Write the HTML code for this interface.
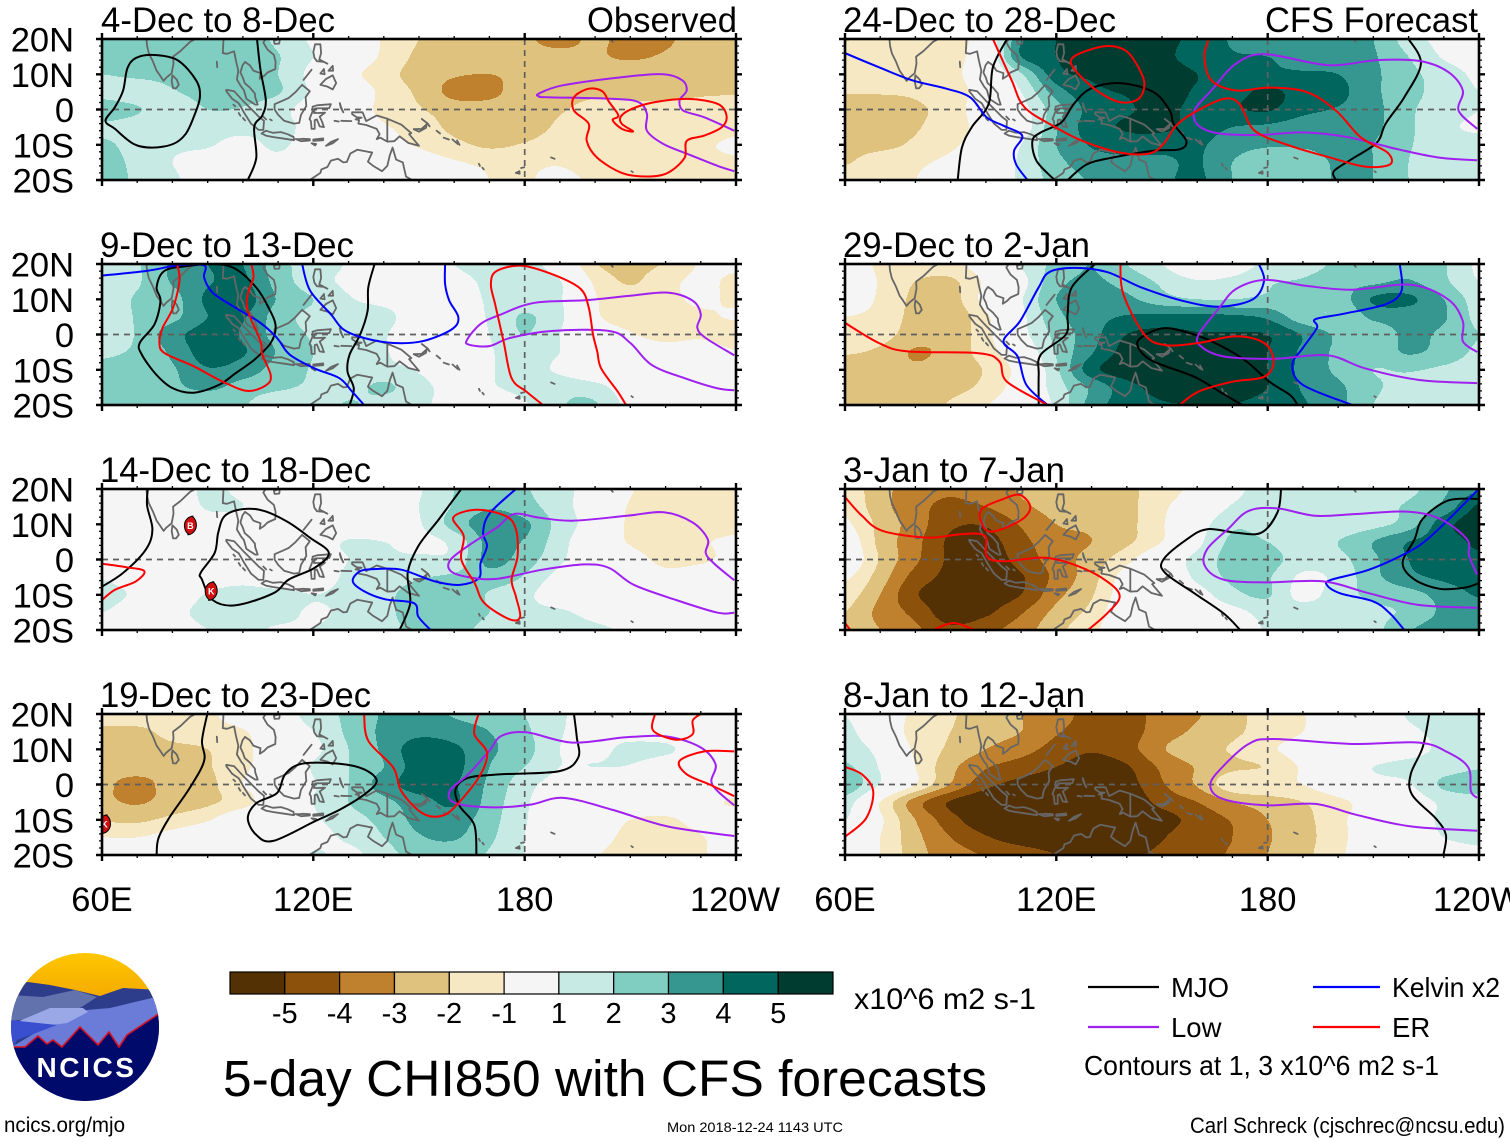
<!DOCTYPE html>
<html lang="en">
<head>
<meta charset="utf-8">
<title>5-day CHI850 with CFS forecasts</title>
<style>
html,body{margin:0;padding:0;background:#fff;width:1510px;height:1142px;overflow:hidden}
svg{display:block;position:absolute;left:0;top:0}
text{font-family:"Liberation Sans",Arial,sans-serif;fill:#000}
</style>
</head>
<body>
<svg id="root" xmlns="http://www.w3.org/2000/svg" width="1510" height="1142" viewBox="0 0 1510 1142">
<rect x="0" y="0" width="1510" height="1142" fill="#fff"/>
<g id="panel-0"></g>
<g id="panel-1"></g>
<g id="panel-2"></g>
<g id="panel-3"></g>
<g id="panel-4"></g>
<g id="panel-5"></g>
<g id="panel-6"></g>
<g id="panel-7"></g>

<g font-size="35">
<text x="101" y="32" textLength="234" lengthAdjust="spacingAndGlyphs">4-Dec to 8-Dec</text>
<text x="587" y="32" textLength="150" lengthAdjust="spacingAndGlyphs">Observed</text>
<text x="100" y="257" textLength="254" lengthAdjust="spacingAndGlyphs">9-Dec to 13-Dec</text>
<text x="100" y="482" textLength="271" lengthAdjust="spacingAndGlyphs">14-Dec to 18-Dec</text>
<text x="100" y="707" textLength="271" lengthAdjust="spacingAndGlyphs">19-Dec to 23-Dec</text>
<text x="843" y="32" textLength="273" lengthAdjust="spacingAndGlyphs">24-Dec to 28-Dec</text>
<text x="1265" y="32" textLength="213" lengthAdjust="spacingAndGlyphs">CFS Forecast</text>
<text x="843" y="257" textLength="247" lengthAdjust="spacingAndGlyphs">29-Dec to 2-Jan</text>
<text x="843" y="482" textLength="222" lengthAdjust="spacingAndGlyphs">3-Jan to 7-Jan</text>
<text x="843" y="707" textLength="242" lengthAdjust="spacingAndGlyphs">8-Jan to 12-Jan</text>
</g>

<g id="colorbar"></g>
<text x="854" y="1009" font-size="30" textLength="182" lengthAdjust="spacingAndGlyphs">x10^6 m2 s-1</text>
<text x="223" y="1096" font-size="51" textLength="764" lengthAdjust="spacingAndGlyphs">5-day CHI850 with CFS forecasts</text>

<g>
<line x1="1088" y1="987" x2="1159" y2="987" stroke="#000" stroke-width="2.2"/>
<text x="1171" y="997" font-size="27.5">MJO</text>
<line x1="1313" y1="987" x2="1380" y2="987" stroke="#0000ff" stroke-width="2.2"/>
<text x="1392" y="997" font-size="27.5" textLength="108" lengthAdjust="spacingAndGlyphs">Kelvin x2</text>
<line x1="1088" y1="1027" x2="1159" y2="1027" stroke="#a020f0" stroke-width="2.2"/>
<text x="1171" y="1037" font-size="27.5">Low</text>
<line x1="1313" y1="1027" x2="1380" y2="1027" stroke="#ff0000" stroke-width="2.2"/>
<text x="1392" y="1037" font-size="27.5">ER</text>
<text x="1084" y="1075" font-size="28" textLength="355" lengthAdjust="spacingAndGlyphs">Contours at 1, 3 x10^6 m2 s-1</text>
</g>

<text x="4" y="1132" font-size="21.5" textLength="121" lengthAdjust="spacingAndGlyphs">ncics.org/mjo</text>
<text x="667" y="1132" font-size="14" textLength="176" lengthAdjust="spacingAndGlyphs">Mon 2018-12-24 1143 UTC</text>
<text x="1190" y="1133" font-size="22" textLength="315" lengthAdjust="spacingAndGlyphs">Carl Schreck (cjschrec@ncsu.edu)</text>

<g>
<defs>
<clipPath id="logo-clip"><circle cx="85" cy="1027" r="74"/></clipPath>
<linearGradient id="sky" x1="0" y1="0" x2="0" y2="1"><stop offset="0" stop-color="#ffc800"/><stop offset="1" stop-color="#f4a800"/></linearGradient>
</defs>
<g clip-path="url(#logo-clip)">
<rect x="10" y="952" width="150" height="48" fill="url(#sky)"/>
<polygon points="10,985 28,982 50,985 75,990 100,996 123,988 160,990 160,1102 10,1102" fill="#2e3c8c"/>
<polygon points="10,995 43,997 75,990 97,997 80,1008 47,1017 10,1021" fill="#6272ac"/>
<polygon points="160,996 110,1008 87,1010 40,1030 10,1048 160,1048" fill="#6a7cd8"/>
<polygon points="17,1022 50,1008 83,1008 88,1012 67,1023 43,1026" fill="#9aa8e8"/>
<polygon points="10,1020 57,1025 17,1040 13,1048 10,1048" fill="#3a4fd0"/>
<polygon points="10,1047 25,1047 38,1036 47,1044 53,1040 62,1047 80,1027 98,1045 109,1032 119,1047 127,1035 160,1013 160,1102 10,1102" fill="#000a6b" stroke="#d81020" stroke-width="1.6"/>
</g>
<text x="86.5" y="1077" font-size="28" font-weight="700" text-anchor="middle" letter-spacing="2.6" style="fill:#fff">NCICS</text>
</g>
</svg>

<script>
// Grid axes of the anomaly fields
const gridLons = [60,70,80,90,100,110,120,130,140,150,160,170,180,190,200,210,220,230,240];
const gridLats = [20,15,10,5,0,-5,-10,-15,-20];

// Shading classes
const shadeLevels = [-5,-4,-3,-2,-1,1,2,3,4,5];
const shadeColors = ['#543005','#8c510a','#bf812d','#dfc27d','#f6e8c3','#f5f5f5','#c7eae5','#80cdc1','#35978f','#01665e','#003c30'];

// Axis labels
const latTickLabels = ['20N','10N','0','10S','20S'];
const latTickValues = [20,10,0,-10,-20];
const lonTickLabels = ['60E','120E','180','120W'];
const lonTickValues = [60,120,180,240];
const colorbarLabels = ['-5','-4','-3','-2','-1','1','2','3','4','5'];

// CHI850 anomaly (x10^6 m2 s-1), rows = gridLats, columns = gridLons
const fieldDec04 = [
[2.5,2.5,2.5,2.3,2.4,1.8,0.8,0,-1.1,-2.0,-2.3,-2.7,-2.9,-3.2,-2.9,-3.2,-3.1,-2.7,-2.6],
[2.5,2.5,2.5,2.5,2.5,2.05,1.0,0,-1.2,-2.2,-2.4,-2.6,-2.8,-2.8,-2.9,-3.1,-2.9,-2.6,-2.5],
[2.0,2.2,2.3,2.4,2.5,2.0,0.6,-0.6,-1.6,-2.4,-2.9,-3.0,-2.8,-2.6,-2.6,-2.5,-2.4,-2.3,-2.3],
[1.6,1.4,1.9,2.4,2.5,2.1,0.8,0,-1.3,-2.2,-3.3,-3.2,-2.6,-2.4,-2.2,-2.2,-2.2,-2.1,-2.05],
[2.6,2.1,1.3,2.0,1.9,1.3,0.5,-0.2,-1.3,-1.9,-2.5,-2.7,-2.5,-2.1,-1.7,-1.8,-1.8,-1.7,-1.7],
[1.8,1.5,1.4,1.4,1.4,1.3,0.6,-0.3,-0.9,-1.4,-2.3,-2.8,-2.6,-1.8,-1.5,-1.6,-1.5,-1.4,-1.2],
[2.2,1.6,1.2,1.1,0.6,1.2,0.3,-0.3,-0.7,-1.1,-1.7,-2.2,-1.9,-1.4,-1.5,-1.4,-1.3,-1.1,-0.9],
[2.5,1.7,1,0.5,0.3,0.6,0,0,-0.3,-0.5,-0.9,-1.2,-1.2,-1.1,-1.5,-1.4,-1.3,-1.2,-1.1],
[2.6,1.8,1.2,0.3,0.2,0,0,0,0,-0.2,-0.5,-1,-1.1,-0.7,-1.2,-1.3,-1.3,-1.3,-1.3]];
const fieldDec09 = [
[1.6,1.9,3.2,4.0,4.0,2.4,1.5,0.9,0.1,0,1.0,1.4,1.4,0.3,-1.9,-2.3,-1.9,-0.9,-0.8],
[1.7,1.9,3.1,3.9,4.2,2.6,1.4,0.8,0.2,0,0.6,1.2,1.4,1.05,-1.2,-2.1,-1.3,-0.8,-1.2],
[1.5,2.1,2.6,4.2,4.5,2.9,2.0,1.1,0.7,0.4,0.6,1.1,1.5,1.1,-0.9,-1.5,-1.3,-0.8,-1.2],
[1.3,2.1,2.7,4.0,4.1,2.5,1.7,1.5,1.3,0.4,0.4,1.1,2.1,1.2,-0.8,-1.4,-1.5,-1.2,-0.9],
[1.4,2.1,3.6,4.4,3.9,2.6,1.9,1.7,1.1,0.2,0.2,1.0,2.0,1.0,-0.3,-0.9,-1.4,-1.2,-1.6],
[1.8,2.2,3.2,4.5,4.1,2.9,2.0,1.6,1.1,0.3,0.1,0.9,1.5,1.0,0,-0.2,-0.4,-0.3,-0.9],
[2.3,2.6,2.9,3.9,3.5,2.6,1.9,1.3,1.3,0.9,0.3,0.9,1.4,0.8,0,0,0,0,0],
[2.5,2.6,2.8,3.2,2.6,2.2,1.8,1.6,2.2,1.3,0.7,0.9,1.3,1.7,1.4,0.3,0,0,0],
[2.4,2.4,2.3,2.2,2.1,1.1,1.3,2.1,1.5,1.2,0.6,0.4,0.9,1.9,2.1,0.6,0,0,0]];
const fieldDec14 = [
[0,0,0.3,1.2,0.7,0,0,0,0.3,0.9,2.0,2.6,2.1,1.3,0.5,-0.9,-1.3,-1.2,-1.2],
[0,0,0.2,1.1,1.0,0.3,0,0,0,1.0,2.1,2.9,2.4,1.4,0.3,-1.1,-1.3,-1.3,-1.4],
[0,0,0,0.5,0.4,0,0,0,0.2,0.9,2.4,3.6,3.2,1.6,0.4,-1.2,-1.5,-1.4,-1.3],
[0,0,0,0,0,0,0.3,1.1,1.0,0.7,1.3,3.3,2.9,1.4,0,-1.1,-1.4,-1.1,-0.8],
[0.2,0,0,0,0,0,0.2,1.0,1.1,1.2,1.3,3.3,2.5,1.2,0,-0.5,-1.3,-1.2,-0.6],
[0.9,0.4,0,0.3,0.5,0,0.3,1.2,1.4,1.9,2.2,2.6,1.9,0.6,0,0,-0.6,-0.2,0],
[1.4,0.8,0.2,1.1,1.5,1.4,1.0,1.3,1.7,2.6,2.8,1.9,1.3,0.2,0,0,0,0,0],
[1.0,0.3,0.6,1.4,1.5,1.3,0.9,1.2,1.7,2.6,2.7,2.0,1.3,1.2,0.5,0,0,0,0],
[0,0,0.3,1.0,1.2,0.9,1.0,1.3,1.6,2.3,2.4,1.6,1.2,1.6,1.3,0.7,0,0,0]];
const fieldDec19 = [
[-1.2,-1.2,-1.3,-1.2,-0.3,0.3,1.5,2.2,3.1,3.4,2.9,2.5,2.0,1.2,0.2,0,0,0,0],
[-2.3,-2.3,-1.6,-1.4,-1.1,0,1.0,2.2,3.2,3.7,3.5,3.0,2.2,1.1,0.5,0.3,0,0,0],
[-2.6,-2.6,-2.3,-2.0,-1.3,-0.2,0.7,2.0,3.2,4.6,4.2,3.2,2.4,1.0,0.6,1.4,1.3,0,0],
[-2.7,-2.6,-2.7,-2.1,-1.2,-0.3,1.1,2.0,3.0,4.5,4.3,3.0,2.0,1.0,1.0,0.9,0,0,0],
[-2.8,-3.3,-2.6,-2.3,-1.0,-0.3,0.9,2.0,3.5,4.5,4.1,2.8,1.4,0.5,0,0,0,0,0],
[-2.8,-3.1,-2.6,-2.2,-1.4,0,1,2,2.7,3.6,4.1,2.6,1.2,0,0,0,0,-0.5,-1.2],
[-2.1,-2.2,-1.7,-1.1,0,0,0.8,1.6,2.3,3.3,3.5,2.4,1.1,0,0,-1,-1.2,-0.5,0],
[-1,-1,-0.5,0,0,0,0.6,1.2,2.0,2.9,3.1,2.2,1.0,0,-0.4,-1.4,-1.5,-1.1,0],
[0,0,0,0,0,0,1.1,0.7,1.6,2.4,2.5,1.9,1.0,0,-0.9,-1.5,-1.6,-1.2,0]];
const fieldDec24 = [
[-2.1,-1.3,-1.3,-1.2,-0.3,4.0,5.0,5.5,5.6,5.4,4.6,3.9,3.4,3.3,3.2,3.0,1.5,0.7,0.5],
[-1.3,-1.3,-1.3,-1.2,-0.2,4.0,5.0,5.5,5.7,5.3,4.5,4.1,4.0,3.6,3.4,3.1,2.0,0.9,0.5],
[-1.4,-1.4,-1.4,-1.2,-0.3,1.9,4.6,5.2,5.7,5.6,5.0,4.5,4.2,4.1,4.0,3.2,2.3,1.5,0.8],
[-1.9,-1.9,-1.8,-1.3,-0.6,1.0,3.5,4.7,5.1,5.4,4.9,4.7,5.2,4.6,4.3,3.2,2.4,1.5,1.0],
[-2.6,-2.6,-2.2,-1.5,-0.3,0.6,2.6,4.4,4.9,5.2,4.8,4.9,5.1,4.3,3.9,3.3,2.2,1.4,1.0],
[-2.5,-2.5,-2.1,-1.4,-0.6,0.3,2.9,4.5,5.1,5.2,4.6,4.0,3.8,3.4,3.2,3.2,2.2,1.2,0.9],
[-2.3,-2.3,-1.8,-1.2,-0.3,1.0,3.0,4.1,4.5,4.4,4.2,3.4,3.1,3.1,3.2,3.0,2.1,1.4,1.2],
[-2.1,-1.4,-1.2,-0.7,0,1.2,2.7,3.5,3.7,3.8,4.1,3.0,2.5,2.6,3.1,3.0,2.0,1.3,1.2],
[-1.3,-1.1,-1,-0.3,0,1.2,2.4,3.1,3.5,3.8,4.2,3.0,2.2,2.4,3.1,3.0,2.0,1.4,1.2]];
const fieldDec29 = [
[-0.2,-1.2,-1.4,-1.3,-0.3,1.1,2.3,3.0,2.0,1.0,0,0.3,1.3,1.5,2.2,2.5,2.6,2.1,0.8],
[0,-1.1,-2.0,-2.2,-0.8,0.6,2.7,3.1,2.7,1.8,1.1,1.3,1.9,2.1,2.6,2.8,3.1,2.2,1.0],
[0,-1.2,-2.2,-2.4,-0.6,0.9,3,3.2,3.2,2.4,2,2,2.2,2.1,2.4,4.1,4.2,3.0,1.5],
[-1,-1.4,-2.3,-2.7,-1.2,0.7,2.7,3.6,4.1,4.3,4.3,4.2,3.8,2.4,2.1,3.2,3.4,3.1,1.7],
[-1.4,-1.6,-2.5,-2.7,-1.3,0.6,2.3,3.6,5.0,5.3,5.1,5.1,5,3.9,2.8,2.4,3.2,2.8,2],
[-1.9,-2.2,-3.1,-2.6,-1.5,0,2.1,3.9,5.4,5.7,5.7,5.6,5.0,3.8,2.8,2.4,3.1,2.6,1.8],
[-2.5,-2.5,-2.8,-2.5,-1.9,-0.5,1.8,4.6,5.6,5.7,5.8,5.7,5.0,3.7,2.8,2.0,2.1,1.8,1.5],
[-2.5,-2.5,-2.5,-2.3,-1.7,-0.3,1.5,3.2,4.6,5.4,5.7,5.6,5.0,3.9,3.2,2.2,1.6,1.3,1.2],
[-2.4,-2.4,-2.3,-1.9,-1.1,0,1.2,3.4,4.5,4.9,5.0,5.0,4.6,4.1,3.3,2,1.3,1.2,1.1]];
const fieldJan03 = [
[-1.4,-2.6,-3.6,-3.9,-3.5,-2.9,-2.6,-2.4,-2.2,-1.5,-0.6,0.6,1.5,1.4,1.3,1.3,1.7,2.8,3.9],
[-1.2,-2.6,-3.7,-4.2,-4,-3.2,-2.7,-2.6,-2.3,-1.2,-0.2,1.1,1.5,1.3,1.2,1.5,2.2,3.3,5.2],
[-0.8,-2.3,-3.5,-4.8,-4.9,-3.9,-3.0,-2.8,-2.3,-1.1,0.4,1.8,1.6,1.4,1.3,1.7,2.5,4.6,5.6],
[-0.2,-2.3,-3.7,-5.2,-5.4,-4.3,-3.4,-3,-2.2,-1,0.7,2.2,2,1.4,2.0,3.0,4.0,4.5,5.2],
[0,-2.1,-3.8,-5.2,-5.6,-4.6,-3.5,-2.6,-1.3,0.2,1.3,2.4,2.4,1.5,1.7,2.8,4.0,4.6,4.8],
[-0.8,-2.5,-4.4,-5.3,-5.7,-5.1,-3.7,-2.4,-0.5,0,1.2,2.2,2.1,0.8,1.3,2.7,3.7,4.2,4.5],
[-1.5,-3,-4.9,-5.5,-5.5,-5,-3.3,-2.1,-0.3,0,0.5,1.7,2.1,0.6,1.6,2.2,2.6,3.4,4.1],
[-2,-3.3,-4.3,-5.6,-5.2,-4.1,-2.7,-1.7,0,0,0,0.6,1.4,1.6,1.6,1.8,2.2,3.2,3.4],
[-2.4,-3,-3.8,-4.8,-4.3,-3.5,-2.3,-1.3,0,0,0,0.2,1.1,1.2,1.3,1.7,2.9,3.5,3.2]];
const fieldJan08 = [
[1.0,0,-1.3,-1.9,-2.4,-3.0,-3.6,-4.3,-4.3,-3.7,-3.1,-2.3,-1.6,-1.05,-0.3,0,1.1,1.3,1.3],
[1.3,0,-1.4,-2,-2.6,-3,-3.9,-4.4,-4.4,-3.5,-2.8,-2.2,-1.6,-1,-0.2,0,0.8,1.2,1.3],
[1.6,0.6,-1.2,-2.2,-3,-3.6,-4.4,-4.9,-4.4,-3.1,-2.4,-1.9,-1.2,-0.5,0,0.2,0.6,1.2,1.3],
[2.2,0.9,-1,-2.7,-3.9,-4.5,-5,-5.4,-5.1,-3.8,-2.9,-2.2,-1.9,-0.8,0.6,1.0,1.3,1.5,1.9],
[2.8,0.9,-1,-3.1,-4.7,-5.3,-5.5,-5.6,-5.4,-4.1,-2.9,-1.4,-1.2,-1,0,0.6,0.9,2.2,2.6],
[1.5,-1,-3.5,-5.1,-5.8,-5.9,-5.9,-5.8,-5.7,-4.7,-4.0,-3,-2.5,-2,-1.3,-0.4,0.3,1.2,1.5],
[1,-0.8,-3,-4.6,-5.7,-6,-6,-5.9,-5.7,-5.4,-4.6,-3.9,-3,-2.3,-1.3,-0.2,0.3,1.2,1.3],
[0,-1,-2.7,-4,-4.9,-5.5,-5.7,-5.9,-5.9,-5.1,-4.2,-4,-3.1,-2.4,-1.3,-0.3,0.1,1,1.4],
[0,-1,-2.6,-3.5,-4.1,-4.5,-5,-5.3,-5.3,-4.7,-4.2,-3.9,-3,-2.3,-1.2,-0.3,0,0.2,0.5]];

// Contours: flat lon,lat pairs; a line ending on its first point is closed
const mjoDec04 = [[74.3,15.5,81.4,14,86.7,8.3,87.8,3.5,86,-2.2,83.7,-7,80.2,-9.8,74.3,-10.8,69,-9.8,63.7,-5.5,61,-3.2,63.7,0.7,66,5.4,67.2,11.7,69.6,14.6,74.3,15.5],
[104,20,105,11.2,106.5,2.6,105.5,-1.7,103.2,-5,103.8,-13.7,101.4,-20]];
const kelvinDec04 = [];
const lowDec04 = [[239.5,-6,231,-2.2,225,-0.3,224,2.6,226,5.4,224.7,8.3,219.4,10,208.8,9.3,191,6.9,184,4.5,184.2,3.7,186.4,3.5,205.2,3,212.3,2.1,214.7,-1.2,214.7,-6,219.4,-9.8,226.5,-12.7,234.8,-16,239.5,-17.5]];
const erDec04 = [[198.2,5.9,202,5.2,204,2.1,206.6,-1.7,205,-3,207.6,-5.5,210.8,-6.2,207.6,-4.1,207.3,-2,210.5,0.2,217,2.1,226.5,3,234.8,1.6,237.3,-1.7,236,-5,231,-7.4,226,-8.9,225.4,-13.7,220.6,-18,214.7,-19,207.6,-18,200.6,-13.7,197.6,-8.9,198.2,-4.1,194,-0.3,194,3.5,198.2,5.9]];

const mjoDec09 = [[77.8,18.1,84.9,19.5,92,20,97.9,18.6,103.8,13.3,107.3,7.6,109.3,2.4,107.9,-2.4,103.2,-7.2,97.9,-11,93.2,-14.3,86.1,-16.5,80.2,-15.3,75.5,-11.5,71.3,-5.7,70.7,-2.4,74.9,2.9,76.6,9.6,75.5,13.4,77.8,18.1],
[137.4,20,135.6,13.4,135.4,6.7,133.3,0,130.3,-5.7,129.7,-10.5,131.5,-15.3,130.3,-20]];
const kelvinDec09 = [[60,16.7,73,18.1,81.4,19.6,89,19.6,89,16.2,91.4,11.9,97.9,7.6,105,3.3,109.7,-1,113.3,-5.7,120.3,-9.6,127.4,-12.4,131,-16.2,134.4,-20],
[116.8,20,119.1,12.4,125,5.7,128.6,1.4,134.4,-1,142.7,-2.4,151,-1.9,159.2,1.4,161.2,4.8,158.6,9.6,157.4,14.3,157.4,20]];
const lowDec09 = [[239.5,-5.9,231.4,-1,229,1.9,230,5.7,227.7,9.6,220.6,11.9,210,11,197,9.7,182.8,9,172.8,5.5,167.5,3,163.7,-1.4,164.2,-2.9,170,-3.3,175.8,-1,187.6,1,204,1,210,-2.4,216,-8.6,225.4,-12.4,234.8,-15.3,239.5,-15.8]];
const erDec09 = [[81.4,19.6,82,15.3,80.2,7.6,77.2,1.9,76.3,-2.4,77.8,-5.3,86,-9,94.3,-13.4,101.4,-16,106.7,-14.3,107.9,-11.5,105.5,-5.7,105,-1.9,101.4,6.7,101.4,11.5,103,16.2,102.4,20],
[185.2,-20,180.5,-16.2,176.3,-12.4,174,-1.9,171.6,8.6,170.4,14.3,172,18,179.3,19.5,188.8,16.7,195.9,12.9,198.2,7.6,199.4,0,200.6,-4.8,201.7,-9.6,206.4,-16.2,208.8,-20]];

const mjoDec14 = [[73,20,72.8,15.3,74.3,8.6,72.5,2.9,66,-3.8,60,-7.7],
[100,14.3,106,13.8,113,10.5,119,6.2,124.4,1.9,120.3,-2.4,113,-5.7,108.6,-9.6,98,-13,91.4,-11.5,88.4,-5.7,88,-3.8,92,1.9,93,7.6,94.9,12.4,100,14.3],
[162,20,155.7,11.5,149.8,3.8,146.8,-3.8,147.5,-12.4,144.5,-20]];
const kelvinDec14 = [[177.5,20,170,13,168.2,7.6,169.3,3.8,167.5,-1,167,-5.3,161.6,-7.2,154.5,-6.2,145,-2.9,138,-2.7,133.3,-3.3,131.2,-6.2,134.4,-9,140.4,-11.3,148.6,-12.4,149.8,-16.2,153.3,-20]];
const lowDec14 = [[239.5,-5.9,233.6,-1,231.4,1.9,232,5.7,227.7,10.5,219.5,13.4,209,12.4,193.5,11,184,11.9,177,12.9,172,9,165.3,4.8,159,0,159,-3.3,164,-5,172,-5.5,185,-2.9,197,-1.4,204,-2.4,211,-7.2,223,-11.5,234.8,-15.1,239.5,-15.1]];
const erDec14 = [[60,-1.2,67,-2.2,72,-3.3,69.6,-6.2,63.7,-8.6,60,-11.5],
[159.7,11.9,162.7,6.7,162,0,165.8,-6.7,168.6,-12.4,175.8,-17,178.7,-16.2,177.5,-10.5,176.3,-5.7,178,1,177.5,8.6,174.5,12.4,166.3,14.1,159.7,11.9]];

const mjoDec19 = [[89.9,20,88.4,12.4,89,6.7,84.9,-1,79,-9.6,76,-15.3,75.5,-20],
[116.8,5.9,127.4,5.9,134.4,4.3,138,1,134.4,-2.9,127.4,-7.2,120.3,-10.5,108.6,-16,103.8,-14.3,101.4,-9.6,103.8,-5.3,109.7,-2.4,112,2.9,116.8,5.9],
[194,20,194.8,13.4,195.2,7.6,189.9,3.8,173.4,2.9,164,1.9,160.4,-1.4,161.6,-6.2,165.7,-11.5,166.3,-20]];
const kelvinDec19 = [];
const lowDec19 = [[239.5,-5.9,234.8,-1.9,233,1,234.2,5.7,230,10.5,220.6,13.6,208.8,13.4,193.5,11.9,180.5,14.8,173.4,13.8,170,9.6,164,2.9,158.7,-1.9,160.4,-5.3,171,-6.5,181.7,-5.7,191,-3.8,205,-7.2,220.5,-11.9,239.5,-14.6]];
const erDec19 = [[134.4,20,135.6,12.4,142.7,4.8,145,-1.9,150.9,-8.1,156.8,-8.8,161.6,-4.8,167.5,2.9,169.3,9.1,165.7,14.3,166.9,20],
[217,20,216.5,15.3,223,12.7,227.7,14.3,227.7,18.1,230,20],
[239.5,9.4,231,9.4,224,6.7,226,2.9,232.5,0,239.5,-3.3]];

const mjoDec24 = [[92,-20,93.2,-10.8,96,-5,100.8,1.6,102,12,106,20],
[119.5,-20,114.4,-14.6,113.2,-8.9,115.6,-6.5,121.5,-3.6,125,1.6,129.7,5.9,138,7.5,147.5,5,152.2,-0.3,153.3,-4.1,156.9,-8.9,155,-11.3,147.5,-11.7,135.6,-13.7,128.6,-15.6,123.2,-20],
[220,20,223.5,13,218.8,3.5,213.5,-4,211,-9.4,204,-14,198.8,-17.5,199.4,-20]];
const kelvinDec24 = [[60,16,69.6,12,79,8.3,88.4,6,95.5,3.5,100.2,-2.2,105,-4.6,110.3,-7.4,108,-11.7,108.6,-15.6,111.8,-20]];
const lowDec24 = [[239.5,-5.5,234.2,-0.3,235.4,5.4,231.2,10.7,223,13.8,211,14,197,12.6,179.3,15.7,171,13,164,5.4,159.2,-0.3,160.4,-4.6,166.3,-6.8,178,-7.2,190,-6.5,203,-7.9,217,-11.3,229,-13.7,239.5,-14.4]];
const erDec24 = [[102,20,107.3,8.3,110.9,0.7,119,-4.6,127.4,-8.9,138,-12.2,146.3,-12.5,150.4,-9.8,154,-4.6,159.2,-0.8,167.5,3,172,1.6,176.3,-6,186.4,-10.3,198,-13.7,207.6,-16.2,214.7,-15.6,214,-12.2,206.4,-7.9,199.4,-0.3,191,5,180.5,6.2,171,5.4,164,8.3,162,15,163.3,20],
[133.3,17.9,139.2,17,142.7,13,145,7.4,143.3,3,138,2.1,131.5,5.4,125,11.6,125,15,133.3,17.9]];

const mjoDec29 = [[131,20,124.4,13.4,123.2,5.7,122.7,0,115.6,-5.7,115,-11.5,115,-20],
[172.8,-20,166.3,-16.2,159.2,-12,147.5,-7.6,143.3,-3.8,143.9,-1,149.8,1.7,155.7,1,164,-1.9,173.4,-7.2,180.5,-13.4,186.4,-17.2,188.5,-20]];
const kelvinDec29 = [[177.5,20,179,15.3,175.8,10,166.3,7.9,155.7,9.6,144,13.4,134.4,17.7,125,18.9,118,17.7,115,13.4,109.7,3.8,105,-1.9,109,-6.2,111.5,-14.3,117.5,-20],
[217.5,20,218,12.4,213.5,8.6,201.7,5.9,193.5,4.3,194,1.9,190,-3.8,187,-8.6,190,-14.3,204,-20]];
const lowDec29 = [[239.5,-5,235.4,-1.9,235.4,3.8,231.2,10,220.6,14.1,204,12.7,191,13.8,179.3,15.5,171,12.9,166.3,7.6,160.4,0,161,-3.3,167.5,-6.2,181.7,-6.9,197,-5.9,207.6,-9.6,223,-12.9,239.5,-13.8]];
const erDec29 = [[60,3.3,69.6,-2.4,77.8,-4.8,97.9,-5.3,103.8,-7.6,106,-13.4,117.5,-20],
[138.2,20,139,11.5,145,0,151,-3,160.4,-2.4,171,-0.5,179,-2.4,181.7,-7.6,179,-12,170,-13.4,160.4,-16.2,155,-20]];

const mjoJan03 = [[183.8,20,182.8,13.4,178.2,7.6,171,7.6,162.8,8.6,157,5.7,150.4,0,150.9,-3.8,159.2,-9.6,167.5,-15.3,172.2,-20],
[240,17.2,231.2,16.7,224,11.5,221.7,5.7,218.3,-1,221.7,-5.7,228.8,-8.3,235.8,-8,240,-6.7]];
const kelvinJan03 = [[239.5,19.6,232.4,12.4,225.3,5.7,219.5,1.9,208.8,-2.9,198.2,-5.7,196.8,-7.2,200.6,-9.6,210,-11.9,214.7,-15.3,218.8,-20]];
const lowJan03 = [[239.5,-4.3,237.2,1,236.6,5.7,229,11.5,219.5,13.6,205.2,12.9,193.5,12.4,182.8,14.5,174.6,13.8,168.7,8.6,162.8,2.9,162.2,-1.9,167.5,-5.7,179.3,-6.5,195.8,-6.2,208.8,-9.6,223,-12.9,239.5,-13.7]];
const erJan03 = [[60,17.7,64.8,12.4,70.7,8.1,83.7,6.2,93.2,7.2,99.7,6.7,100.2,1,105,-0.5,116.8,0.5,126.2,-1.9,134.4,-6.2,138,-10.5,134.4,-15.3,129,-20],
[105,17.2,109.7,18.3,112.6,14.8,109.7,11,101.4,7.9,98.5,11.2,99,14.5,105,17.2],
[85,-20,90.8,-18,96.7,-20],
[60,-18,61.5,-20]];

const mjoJan08 = [[225.9,20,224,10.5,220.6,2.9,221,-2.9,227.7,-9.6,230.6,-14.3,229.9,-20]];
const kelvinJan08 = [];
const lowJan08 = [[239.5,-3.8,237.7,-1.9,237,4.8,231.2,9.1,223,11.9,204,11.5,181.7,12.9,174.6,11.5,167.5,5.3,163.7,0,167,-4,179.3,-5.9,193.5,-5.5,205.2,-8.6,220.6,-11.9,239.5,-13.1]];
const erJan08 = [[60,5,64.8,2.9,68,-1.9,66,-9.6,60,-14.8]];

// Tropical cyclone positions: name initial, lon, lat
const cyclonesDec14 = [['B',85.1,9.7],['K',91,-8.9]];
const cyclonesDec19 = [['K',60.7,-11.2]];

// Coastlines (lon,lat)
const coastlines = [
[72.6,20,72.8,18,73.3,16,74.5,13.5,75.5,11,76.3,9.9,77.5,8.1,78.2,9,79.8,10.3,80.3,13,80.2,15,82.3,16.6,85,19.2,86.5,20],
[80,9.7,81.2,8.5,81.8,7,81,6,80.2,6,79.8,8,80,9.7],
[94.5,20,94.3,16,95.5,15.8,97.5,16.5,98,14,98.7,11,98.3,8.5,99.5,6.5,100.3,5.5,101,3,103.5,1.4,104.2,1.4,103.5,3.5,103.4,4.5,102,6.2,100.5,7.5,100,9,99.3,10.5,99.9,12.5,100.6,13.5,102,12.5,103,11,105,10.3,104.8,8.7,106,9.5,107,10.5,109.2,11.5,109.3,13.5,108.8,15.5,107,17,105.8,19,106.5,20],
[95.3,5.6,97.5,5.2,100,2.5,103.5,-1,104.5,-2,106,-3.2,105.8,-5.8,104.5,-5.8,102.3,-4,100.4,-1,98.8,1.8,97,3,95.3,5.2,95.3,5.6],
[105.3,-6.8,106.5,-6,108.5,-6.6,110.8,-6.4,112.7,-7,114.4,-7.8,114.5,-8.7,112,-8.3,108.5,-7.8,106.5,-7.4,105.3,-6.8],
[115,-8.4,116,-8.4,117,-8.3,119,-8.4,119,-8.8,116.5,-9,115,-8.4],
[120,-8.5,122.8,-8.2,122.8,-8.7,120,-8.9,120,-8.5],
[119.5,-9.6,120.8,-9.8,120.5,-10.2,119.5,-9.6],
[123.6,-10.3,125,-9.2,127,-8.4,125.5,-9.6,123.6,-10.3],
[109,1.5,111.3,2.5,113,3.3,115,5,116.8,7,119,5.2,117.8,3.5,118,1,116.5,-1.5,116,-3.8,114.5,-4,111.7,-3.2,110,-1.5,109,0,109,1.5],
[119.8,0.8,121,1.2,125,1.5,124.5,0.4,120.5,0.3,120.2,-1,121.5,-1,123.3,-0.9,121.8,-2,122.5,-3.5,123,-5,121.8,-4.8,121,-2.8,120.4,-3,120.4,-5.5,119.5,-5.5,119.3,-3.3,118.9,-2.7,119.8,-0.5,119.8,0.8],
[120.5,18.5,122,18.5,122.2,16,121.7,14.2,124,13,123,13.5,121,13.7,120.3,14.7,120,16.3,120.5,18.5],
[122,7,123.5,8.6,125.5,9.7,126.5,7.5,125.5,5.7,124,6.5,122,7],
[117.2,8.4,119.5,11.3],
[122,10.2,123,11.5,123.2,10,122,10.2],
[124.3,11,125.5,12.4,125.6,11,124.3,11],
[127.5,1.8,128,0.3,128.5,-0.8,127.8,0.5,127.5,1.8],
[127.9,-3.2,130.8,-3.3],
[126,-3.2,127.2,-3.4],
[131,-0.8,134,-0.8,135,-3.3,138,-1.7,141,-2.6,145,-4.3,147,-6,147.8,-6.7,147.2,-7,150,-10.3,147,-9.5,144.5,-7.6,143,-9,141,-9.1,139,-8,138,-8.4,138.8,-7,138,-5.5,135,-4.4,132.8,-4,133,-3,132,-2.8,133.7,-2.3,132.3,-2.2,131,-1.3,131,-0.8],
[141,-2.6,141,-9.1],
[148.5,-5.6,150.7,-5.5,152.2,-4.2,152,-5.2,150,-6.3,148.5,-5.6],
[150.8,-2.7,152.5,-4,153,-4.8],
[155,-6,156,-6.8],
[157,-8,158.5,-8.5],
[159.5,-8.5,161,-9.8],
[160.8,-8.8,161.5,-10],
[167,-15.4,167.3,-16],
[168,-16.5,168.4,-17],
[177.5,-18,178.5,-17.5,178.6,-18.2,177.5,-18],
[179,-16.6,179.9,-16.4],
[187.5,-13.6,188.5,-14],
[204.5,19.8,205,19.2],
[210.3,-17.5,210.7,-17.8],
[119,-20,122,-18,122.3,-17,124,-16.3,125,-14.5,127,-14,128.5,-15,129.5,-14.9,130.5,-12.5,132.5,-11.4,135.5,-12,136.7,-12.2,135.5,-14.8,137,-16,139.5,-17.5,141,-16,141.7,-13,142.5,-10.8,143.5,-14.2,145.4,-15,146.3,-19,148,-20],
[92.6,13.6,92.7,12],
[97.3,1.4,97.8,0.9],
[98.8,-1,99.3,-1.8],
[100,-2.4,100.6,-3.1],
[105.8,-2,106.6,-2.8],
[107.7,-2.8,108.2,-3.1],
[108.8,19.5,110.5,20,110.3,18.7,109,18.6,108.8,19.5]
];

// ---- panel layout and axis functions ----
const PANEL_W = 634;
const PANEL_H = 141;
const panelLeft = col => col === 0 ? 102 : 845;
const panelTop = row => 39 + row * 225;
const xAxis = (col, lon) => panelLeft(col) + (lon - 60) / 180 * PANEL_W;
const yAxis = (row, lat) => panelTop(row) + (20 - lat) / 40 * PANEL_H;

const panels = [
{col:0,row:0,field:fieldDec04,mjo:mjoDec04,kelvin:kelvinDec04,low:lowDec04,er:erDec04,cyclones:[]},
{col:0,row:1,field:fieldDec09,mjo:mjoDec09,kelvin:kelvinDec09,low:lowDec09,er:erDec09,cyclones:[]},
{col:0,row:2,field:fieldDec14,mjo:mjoDec14,kelvin:kelvinDec14,low:lowDec14,er:erDec14,cyclones:cyclonesDec14},
{col:0,row:3,field:fieldDec19,mjo:mjoDec19,kelvin:kelvinDec19,low:lowDec19,er:erDec19,cyclones:cyclonesDec19},
{col:1,row:0,field:fieldDec24,mjo:mjoDec24,kelvin:kelvinDec24,low:lowDec24,er:erDec24,cyclones:[]},
{col:1,row:1,field:fieldDec29,mjo:mjoDec29,kelvin:kelvinDec29,low:lowDec29,er:erDec29,cyclones:[]},
{col:1,row:2,field:fieldJan03,mjo:mjoJan03,kelvin:kelvinJan03,low:lowJan03,er:erJan03,cyclones:[]},
{col:1,row:3,field:fieldJan08,mjo:mjoJan08,kelvin:kelvinJan08,low:lowJan08,er:erJan08,cyclones:[]}
];

const NS = 'http://www.w3.org/2000/svg';
function make(tag, attrs, parent, name) {
  const el = document.createElementNS(NS, tag);
  for (const k in attrs) el.setAttribute(k, attrs[k]);
  
  
  parent.appendChild(el);
  return el;
}

function cubic(a, b, c, d, t) {
  return b + 0.5 * t * (c - a + t * (2 * a - 5 * b + 4 * c - d + t * (3 * (b - c) + d - a)));
}
function shadeClass(v) {
  let i = 0;
  while (i < shadeLevels.length && v >= shadeLevels[i]) i++;
  return i;
}
function drawField(g, p) {
  const paths = shadeColors.map(() => []);
  const x0 = Math.round(panelLeft(p.col)), y0 = Math.round(panelTop(p.row));
  const nR = gridLats.length, nC = gridLons.length;
  const col = new Array(nC);
  for (let py = 0; py < PANEL_H; py++) {
    const lat = 20 - (py + 0.5) / PANEL_H * 40;
    const fy = (gridLats[0] - lat) / (gridLats[0] - gridLats[1]);
    const iy = Math.min(nR - 2, Math.floor(fy)), ty = fy - iy;
    const r0 = p.field[Math.max(0, iy - 1)], r1 = p.field[iy], r2 = p.field[iy + 1], r3 = p.field[Math.min(nR - 1, iy + 2)];
    for (let j = 0; j < nC; j++) col[j] = cubic(r0[j], r1[j], r2[j], r3[j], ty);
    let runStart = 0, cur = -1;
    for (let px = 0; px <= PANEL_W; px++) {
      let c = -2;
      if (px < PANEL_W) {
        const lon = 60 + (px + 0.5) / PANEL_W * 180;
        const fx = (lon - gridLons[0]) / (gridLons[1] - gridLons[0]);
        const ix = Math.min(nC - 2, Math.floor(fx)), tx = fx - ix;
        c = shadeClass(cubic(col[Math.max(0, ix - 1)], col[ix], col[ix + 1], col[Math.min(nC - 1, ix + 2)], tx));
      }
      if (c !== cur) {
        if (cur >= 0) paths[cur].push('M' + (x0 + runStart) + ' ' + (y0 + py) + 'h' + (px - runStart) + 'v1h' + (runStart - px) + 'z');
        cur = c;
        runStart = px;
      }
    }
  }
  paths.forEach((segs, i) => {
    if (segs.length) {
      make('path', {d: segs.join(''), fill: shadeColors[i], 'shape-rendering': 'crispEdges'}, g, 'shading-class-' + i);
    }
  });
}

function smoothPath(p, flat) {
  const pts = [];
  for (let i = 0; i + 1 < flat.length; i += 2) pts.push([xAxis(p.col, flat[i]), yAxis(p.row, flat[i + 1])]);
  const n = pts.length;
  const closed = n > 3 && flat[0] === flat[flat.length - 2] && flat[1] === flat[flat.length - 1];
  const at = i => closed ? pts[((i % (n - 1)) + (n - 1)) % (n - 1)] : pts[Math.max(0, Math.min(n - 1, i))];
  let d = 'M' + pts[0][0].toFixed(1) + ' ' + pts[0][1].toFixed(1);
  for (let i = 0; i < n - 1; i++) {
    const a = at(i - 1), b = at(i), c = at(i + 1), e = at(i + 2);
    d += 'C' + (b[0] + (c[0] - a[0]) / 6).toFixed(1) + ' ' + (b[1] + (c[1] - a[1]) / 6).toFixed(1) + ' ' +
         (c[0] - (e[0] - b[0]) / 6).toFixed(1) + ' ' + (c[1] - (e[1] - b[1]) / 6).toFixed(1) + ' ' +
         c[0].toFixed(1) + ' ' + c[1].toFixed(1);
  }
  return d;
}

function drawCoast(g, p) {
  let d = '';
  coastlines.forEach(c => {
    for (let i = 0; i + 1 < c.length; i += 2) {
      d += (i ? 'L' : 'M') + xAxis(p.col, c[i]).toFixed(1) + ' ' + yAxis(p.row, c[i + 1]).toFixed(1);
    }
  });
  make('path', {d: d, fill: 'none', stroke: '#666666', 'stroke-width': 1.8, 'stroke-linejoin': 'round', 'stroke-linecap': 'round'}, g, 'coastlines');
}

function drawCyclone(g, p, c) {
  const cx = xAxis(p.col, c[1]), cy = yAxis(p.row, c[2]);
  const t = make('g', {transform: 'translate(' + cx.toFixed(1) + ' ' + cy.toFixed(1) + ')'}, g, 'tropical-cyclone-' + c[0].toLowerCase());
  make('path', {d: 'M3 -9C-2 -9 -6 -5 -6 0C-6 3 -5 6 -3 8C-2 9 0 9.5 -3 9.5C2 9.5 6 5 6 0C6 -3 5 -6 3 -8C2 -9 0 -9.5 3 -9Z', fill: '#d01010', stroke: '#000', 'stroke-width': 1}, t, 'cyclone-symbol');
  const label = make('text', {x: 0, y: 3.5, 'font-size': 9, 'font-weight': 700, 'text-anchor': 'middle', style: 'fill:#fff'}, t, 'cyclone-letter');
  label.textContent = c[0];
}

function drawAxes(g, p) {
  const L = panelLeft(p.col), T = panelTop(p.row), R = L + PANEL_W, B = T + PANEL_H;
  let major = '', minor = '';
  for (let lon = 60; lon <= 240; lon += 10) {
    const x = xAxis(p.col, lon).toFixed(1);
    if ((lon - 60) % 60 === 0) major += 'M' + x + ' ' + (T - 6) + 'V' + T + 'M' + x + ' ' + B + 'V' + (B + 6);
    else minor += 'M' + x + ' ' + (T - 3) + 'V' + T + 'M' + x + ' ' + B + 'V' + (B + 3);
  }
  for (let lat = -20; lat <= 20; lat += 2) {
    const y = yAxis(p.row, lat).toFixed(1);
    if (lat % 10 === 0) major += 'M' + (L - 6) + ' ' + y + 'H' + L + 'M' + R + ' ' + y + 'H' + (R + 6);
    else minor += 'M' + (L - 3) + ' ' + y + 'H' + L + 'M' + R + ' ' + y + 'H' + (R + 3);
  }
  make('path', {d: minor, stroke: '#000', 'stroke-width': 1.3, fill: 'none'}, g, 'minor-ticks');
  make('path', {d: major, stroke: '#000', 'stroke-width': 2.4, fill: 'none'}, g, 'major-ticks');
  make('rect', {x: L, y: T, width: PANEL_W, height: PANEL_H, fill: 'none', stroke: '#000', 'stroke-width': 2.6}, g, 'panel-frame');
  if (p.col === 0) {
    latTickLabels.forEach((s, i) => {
      const t = make('text', {x: 74, y: (yAxis(p.row, latTickValues[i]) + 12.5).toFixed(1), 'font-size': 34.5, 'text-anchor': 'end'}, g, 'lat-label');
      t.textContent = s;
    });
  }
  if (p.row === 3) {
    lonTickLabels.forEach((s, i) => {
      const t = make('text', {x: (xAxis(p.col, lonTickValues[i]) - (i === 3 ? 1 : 0)).toFixed(1), y: 911, 'font-size': 34.5, 'text-anchor': 'middle'}, g, 'lon-label');
      t.textContent = s;
    });
  }
}

panels.forEach((p, idx) => {
  const g = document.getElementById('panel-' + idx);
  const clipId = 'clip-' + idx;
  const cp = make('clipPath', {id: clipId}, g, 'panel-clip');
  make('rect', {x: panelLeft(p.col), y: panelTop(p.row), width: PANEL_W, height: PANEL_H}, cp, 'panel-clip-rect');
  const inner = make('g', {'clip-path': 'url(#' + clipId + ')'}, g, 'map-area');
  drawField(inner, p);
  drawCoast(inner, p);
  const yEq = yAxis(p.row, 0).toFixed(1), xDl = xAxis(p.col, 180).toFixed(1);
  make('line', {x1: panelLeft(p.col), x2: panelLeft(p.col) + PANEL_W, y1: yEq, y2: yEq, stroke: '#5f5f5f', 'stroke-width': 1.7, 'stroke-dasharray': '6 5'}, inner, 'equator-line');
  make('line', {x1: xDl, x2: xDl, y1: panelTop(p.row), y2: panelTop(p.row) + PANEL_H, stroke: '#5f5f5f', 'stroke-width': 1.7, 'stroke-dasharray': '6 5'}, inner, 'dateline');
  [['mjo', '#000000'], ['kelvin', '#0000ff'], ['low', '#a020f0'], ['er', '#ff0000']].forEach(s => {
    p[s[0]].forEach(line => {
      make('path', {d: smoothPath(p, line), fill: 'none', stroke: s[1], 'stroke-width': 2}, inner, s[0] + '-contour');
    });
  });
  p.cyclones.forEach(c => drawCyclone(inner, p, c));
  drawAxes(g, p);
});

// ---- colorbar ----
(function () {
  const g = document.getElementById('colorbar');
  const left = 230, width = 603, top = 972, height = 22;
  const w = width / shadeColors.length;
  shadeColors.forEach((c, i) => {
    make('rect', {x: (left + i * w).toFixed(1), y: top, width: w.toFixed(1), height: height, fill: c, stroke: '#000', 'stroke-width': 1.2}, g, 'colorbar-box');
  });
  colorbarLabels.forEach((s, i) => {
    const t = make('text', {x: (left + (i + 1) * w).toFixed(1), y: 1023, 'font-size': 29, 'text-anchor': 'middle'}, g, 'colorbar-label');
    t.textContent = s;
  });
})();
</script>
</body>
</html>
